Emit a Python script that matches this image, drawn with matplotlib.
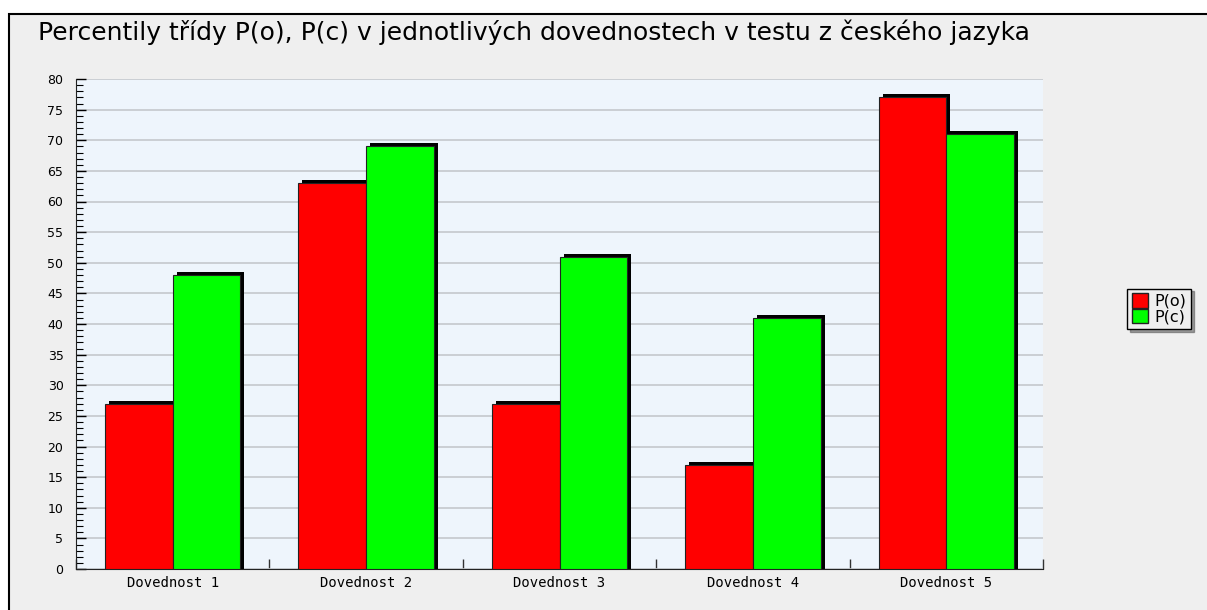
import numpy as np
import matplotlib
matplotlib.use('Agg')
import matplotlib.pyplot as plt
from matplotlib.patches import Rectangle, Patch

# data
skills = ['Dovednost 1', 'Dovednost 2', 'Dovednost 3', 'Dovednost 4', 'Dovednost 5']
p_o = [27, 63, 27, 17, 77]
p_c = [48, 69, 51, 41, 71]
series_names = ['P(o)', 'P(c)']

title = 'Percentily třídy P(o), P(c) v jednotlivých dovednostech v testu z českého jazyka'

red = '#ff0000'
green = '#00ff00'

fig = plt.figure(figsize=(12.07, 6.10), dpi=100, facecolor='white')

# outer grey frame with black top/left edge
frame = Rectangle((9/1207, -0.05), 1.1, 1 - 14/610 + 0.05, transform=fig.transFigure,
                  facecolor='#efefef', edgecolor='black', lw=1.5, zorder=0)
fig.add_artist(frame)

ax = fig.add_axes([76/1207, 1 - 569/610, (1043 - 76)/1207, (569 - 79)/610])
ax.set_facecolor('#eef5fc')

x = np.arange(len(skills))
w = 0.35
# shadow offset (approx. 4 px right, 3 px up)
dx = 4 / 193.4
dy = 0.5

for vals, off, col in [(p_o, -w/2, red), (p_c, w/2, green)]:
	ax.bar(x + off + dx, np.array(vals) + dy, width=w, color='black', zorder=2)
	ax.bar(x + off, vals, width=w, color=col, edgecolor='#222222', lw=0.8, zorder=3)

ax.set_xlim(-0.5, len(skills) - 0.5)
ax.set_ylim(0, 80)
ax.set_yticks(np.arange(0, 81, 5))
ax.set_yticks(np.arange(0, 81, 1), minor=True)
ax.yaxis.grid(True, color='#c4c8cc', lw=1.2, zorder=1)
ax.set_axisbelow(True)

# category boundaries as small ticks, labels at centers
ax.set_xticks(np.arange(-0.5, len(skills), 1.0))
ax.set_xticklabels([])
ax.set_xticks(x, minor=True)
ax.set_xticklabels(skills, minor=True, family='DejaVu Sans Mono', fontsize=10)
ax.tick_params(axis='x', which='major', direction='in', length=7, width=1, color='#333333')
ax.tick_params(axis='x', which='minor', length=0, pad=5)
ax.tick_params(axis='y', which='major', direction='in', length=7, width=1, labelsize=9, pad=9)
ax.tick_params(axis='y', which='minor', direction='in', length=5, width=0.8)

for s in ['top', 'right']:
	ax.spines[s].set_visible(False)
ax.spines['left'].set_color('#222222')
ax.spines['bottom'].set_color('#222222')

fig.text(38/1207, 1 - 32/610, title, fontsize=18, va='center', ha='left')

handles = [Patch(facecolor=red, edgecolor='#222222', label=series_names[0]),
           Patch(facecolor=green, edgecolor='#222222', label=series_names[1])]
leg = fig.legend(handles=handles, loc='center', bbox_to_anchor=(1159/1207, 1 - 309/610),
                 fontsize=11.5, frameon=True, fancybox=False, shadow=True,
                 handlelength=1.0, handleheight=1.0, handletextpad=0.4,
                 borderpad=0.3, labelspacing=0.0, borderaxespad=0)
leg.get_frame().set_edgecolor('black')
leg.get_frame().set_facecolor('#efefef')

fig.savefig('out.png', dpi=100, facecolor=fig.get_facecolor())
